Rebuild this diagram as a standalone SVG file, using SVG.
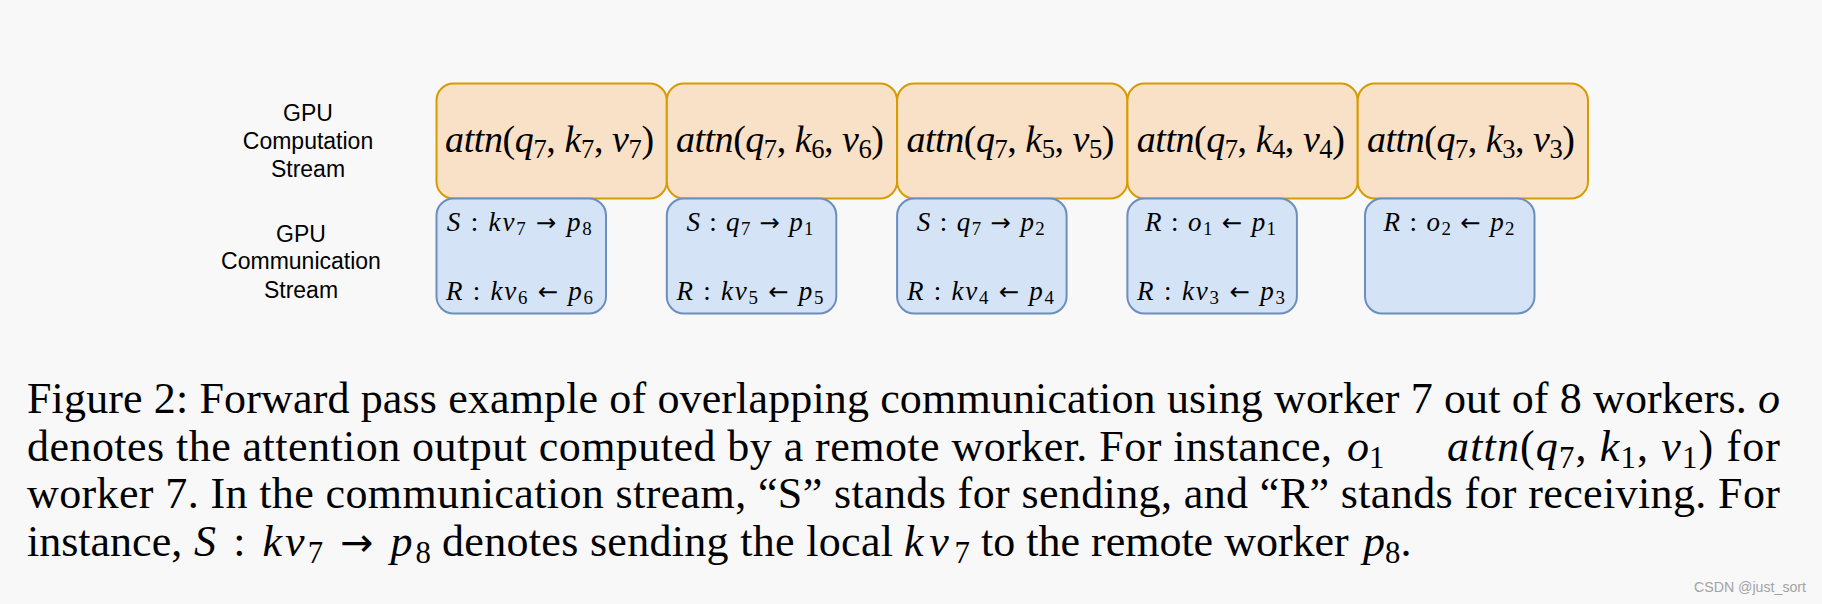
<svg xmlns="http://www.w3.org/2000/svg" width="1822" height="604" viewBox="0 0 1822 604">
<style>
.lbl{font-family:"Liberation Sans",Arial,sans-serif;font-size:23px;fill:#000;text-anchor:middle}
.mth{font-family:"Liberation Serif","DejaVu Serif",serif;font-style:italic;fill:#000}
.big{font-size:38px}
.sm{font-size:27px}
.up{font-style:normal}
.ar{font-family:"DejaVu Sans",sans-serif;font-style:normal;font-size:90%}
.sb{font-size:70%;font-style:normal}
.cmp{fill:#f9e1c8;stroke:#d79b00;stroke-width:2}
.com{fill:#d4e3f5;stroke:#6c8ebf;stroke-width:2}
.cap{font-family:"Liberation Serif","Times New Roman",serif;font-size:44px;fill:#000}
.it{font-style:italic}
.wm{font-family:"Liberation Sans",Arial,sans-serif;font-size:14px;fill:#a3a3a3}
</style>
<rect width="1822" height="604" fill="#f8f8f8"/>

<g id="label-computation">
<text class="lbl" x="308" y="121">GPU</text>
<text class="lbl" x="308" y="148.5">Computation</text>
<text class="lbl" x="308" y="177">Stream</text>
</g>
<g id="label-communication">
<text class="lbl" x="301" y="241.5">GPU</text>
<text class="lbl" x="301" y="269">Communication</text>
<text class="lbl" x="301" y="297.5">Stream</text>
</g>

<g id="connectors"></g>

<g id="comp1">
<rect class="cmp" x="436.5" y="83.5" width="230.3" height="115" rx="17"/>
<text class="mth big" x="549.6" y="152" text-anchor="middle" textLength="209" lengthAdjust="spacing">attn<tspan class="up">(</tspan>q<tspan class="sb" dy="6">7</tspan><tspan class="up" dy="-6">, </tspan>k<tspan class="sb" dy="6">7</tspan><tspan class="up" dy="-6">, </tspan>v<tspan class="sb" dy="6">7</tspan><tspan class="up" dy="-6">)</tspan></text>
</g>
<g id="comp2">
<rect class="cmp" x="666.8" y="83.5" width="230.3" height="115" rx="17"/>
<text class="mth big" x="779.9" y="152" text-anchor="middle" textLength="208" lengthAdjust="spacing">attn<tspan class="up">(</tspan>q<tspan class="sb" dy="6">7</tspan><tspan class="up" dy="-6">, </tspan>k<tspan class="sb" dy="6">6</tspan><tspan class="up" dy="-6">, </tspan>v<tspan class="sb" dy="6">6</tspan><tspan class="up" dy="-6">)</tspan></text>
</g>
<g id="comp3">
<rect class="cmp" x="897.1" y="83.5" width="230.3" height="115" rx="17"/>
<text class="mth big" x="1010.5" y="152" text-anchor="middle" textLength="208" lengthAdjust="spacing">attn<tspan class="up">(</tspan>q<tspan class="sb" dy="6">7</tspan><tspan class="up" dy="-6">, </tspan>k<tspan class="sb" dy="6">5</tspan><tspan class="up" dy="-6">, </tspan>v<tspan class="sb" dy="6">5</tspan><tspan class="up" dy="-6">)</tspan></text>
</g>
<g id="comp4">
<rect class="cmp" x="1127.4" y="83.5" width="230.3" height="115" rx="17"/>
<text class="mth big" x="1240.8" y="152" text-anchor="middle" textLength="208" lengthAdjust="spacing">attn<tspan class="up">(</tspan>q<tspan class="sb" dy="6">7</tspan><tspan class="up" dy="-6">, </tspan>k<tspan class="sb" dy="6">4</tspan><tspan class="up" dy="-6">, </tspan>v<tspan class="sb" dy="6">4</tspan><tspan class="up" dy="-6">)</tspan></text>
</g>
<g id="comp5">
<rect class="cmp" x="1357.7" y="83.5" width="230.3" height="115" rx="17"/>
<text class="mth big" x="1471" y="152" text-anchor="middle" textLength="208" lengthAdjust="spacing">attn<tspan class="up">(</tspan>q<tspan class="sb" dy="6">7</tspan><tspan class="up" dy="-6">, </tspan>k<tspan class="sb" dy="6">3</tspan><tspan class="up" dy="-6">, </tspan>v<tspan class="sb" dy="6">3</tspan><tspan class="up" dy="-6">)</tspan></text>
</g>

<g id="comm1">
<rect class="com" x="436.5" y="198.5" width="169.5" height="115" rx="17"/>
<text class="mth sm" x="519.2" y="231" text-anchor="middle" textLength="145" lengthAdjust="spacing">S<tspan class="up"> : </tspan>kv<tspan class="sb" dy="4">7</tspan><tspan class="up" dy="-4"> </tspan><tspan class="ar">→</tspan><tspan class="up"> </tspan>p<tspan class="sb" dy="4">8</tspan></text>
<text class="mth sm" x="519.5" y="299.5" text-anchor="middle" textLength="147" lengthAdjust="spacing">R<tspan class="up"> : </tspan>kv<tspan class="sb" dy="4">6</tspan><tspan class="up" dy="-4"> </tspan><tspan class="ar">←</tspan><tspan class="up"> </tspan>p<tspan class="sb" dy="4">6</tspan></text>
</g>
<g id="comm2">
<rect class="com" x="666.8" y="198.5" width="169.5" height="115" rx="17"/>
<text class="mth sm" x="750" y="231" text-anchor="middle" textLength="127" lengthAdjust="spacing">S<tspan class="up"> : </tspan>q<tspan class="sb" dy="4">7</tspan><tspan class="up" dy="-4"> </tspan><tspan class="ar">→</tspan><tspan class="up"> </tspan>p<tspan class="sb" dy="4">1</tspan></text>
<text class="mth sm" x="750" y="299.5" text-anchor="middle" textLength="147" lengthAdjust="spacing">R<tspan class="up"> : </tspan>kv<tspan class="sb" dy="4">5</tspan><tspan class="up" dy="-4"> </tspan><tspan class="ar">←</tspan><tspan class="up"> </tspan>p<tspan class="sb" dy="4">5</tspan></text>
</g>
<g id="comm3">
<rect class="com" x="897.1" y="198.5" width="169.5" height="115" rx="17"/>
<text class="mth sm" x="980.8" y="231" text-anchor="middle" textLength="128" lengthAdjust="spacing">S<tspan class="up"> : </tspan>q<tspan class="sb" dy="4">7</tspan><tspan class="up" dy="-4"> </tspan><tspan class="ar">→</tspan><tspan class="up"> </tspan>p<tspan class="sb" dy="4">2</tspan></text>
<text class="mth sm" x="980.5" y="299.5" text-anchor="middle" textLength="147" lengthAdjust="spacing">R<tspan class="up"> : </tspan>kv<tspan class="sb" dy="4">4</tspan><tspan class="up" dy="-4"> </tspan><tspan class="ar">←</tspan><tspan class="up"> </tspan>p<tspan class="sb" dy="4">4</tspan></text>
</g>
<g id="comm4">
<rect class="com" x="1127.4" y="198.5" width="169.5" height="115" rx="17"/>
<text class="mth sm" x="1210.5" y="231" text-anchor="middle" textLength="131" lengthAdjust="spacing">R<tspan class="up"> : </tspan>o<tspan class="sb" dy="4">1</tspan><tspan class="up" dy="-4"> </tspan><tspan class="ar">←</tspan><tspan class="up"> </tspan>p<tspan class="sb" dy="4">1</tspan></text>
<text class="mth sm" x="1211" y="299.5" text-anchor="middle" textLength="148" lengthAdjust="spacing">R<tspan class="up"> : </tspan>kv<tspan class="sb" dy="4">3</tspan><tspan class="up" dy="-4"> </tspan><tspan class="ar">←</tspan><tspan class="up"> </tspan>p<tspan class="sb" dy="4">3</tspan></text>
</g>
<g id="comm5">
<rect class="com" x="1365" y="198.5" width="169.5" height="115" rx="17"/>
<text class="mth sm" x="1449" y="231" text-anchor="middle" textLength="131" lengthAdjust="spacing">R<tspan class="up"> : </tspan>o<tspan class="sb" dy="4">2</tspan><tspan class="up" dy="-4"> </tspan><tspan class="ar">←</tspan><tspan class="up"> </tspan>p<tspan class="sb" dy="4">2</tspan></text>
</g>

<g id="caption">
<text class="cap" x="27" y="413" textLength="1753" lengthAdjust="spacing">Figure 2: Forward pass example of overlapping communication using worker 7 out of 8 workers. <tspan class="it">o</tspan></text>
<text class="cap" x="27" y="460.5" textLength="1305" lengthAdjust="spacing">denotes the attention output computed by a remote worker. For instance,</text>
<text class="cap" x="1347" y="460.5"><tspan class="it">o</tspan><tspan class="sb" dy="7">1</tspan></text>
<text class="cap" x="1447" y="460.5" textLength="333" lengthAdjust="spacing"><tspan class="it">attn</tspan>(<tspan class="it">q</tspan><tspan class="sb" dy="7">7</tspan><tspan dy="-7">, </tspan><tspan class="it">k</tspan><tspan class="sb" dy="7">1</tspan><tspan dy="-7">, </tspan><tspan class="it">v</tspan><tspan class="sb" dy="7">1</tspan><tspan dy="-7">) for</tspan></text>
<text class="cap" x="27" y="508" textLength="1753" lengthAdjust="spacing">worker 7. In the communication stream, “S” stands for sending, and “R” stands for receiving. For</text>
<text class="cap" x="27" y="555.5">instance,</text>
<text class="cap" x="194" y="555.5" textLength="237" lengthAdjust="spacing"><tspan class="it">S</tspan> : <tspan class="it">kv</tspan><tspan class="sb" dy="7">7</tspan><tspan dy="-7"> </tspan><tspan class="ar">→</tspan> <tspan class="it">p</tspan><tspan class="sb" dy="7">8</tspan></text>
<text class="cap" x="442" y="555.5" textLength="451" lengthAdjust="spacing">denotes sending the local</text>
<text class="cap" x="904" y="555.5" textLength="66" lengthAdjust="spacing"><tspan class="it">kv</tspan><tspan class="sb" dy="7">7</tspan></text>
<text class="cap" x="981" y="555.5">to the remote worker</text>
<text class="cap" x="1363" y="555.5"><tspan class="it">p</tspan><tspan class="sb" dy="7">8</tspan><tspan dy="-7">.</tspan></text>
</g>

<text class="wm" x="1694" y="592" textLength="112" lengthAdjust="spacingAndGlyphs">CSDN @just_sort</text>
</svg>
